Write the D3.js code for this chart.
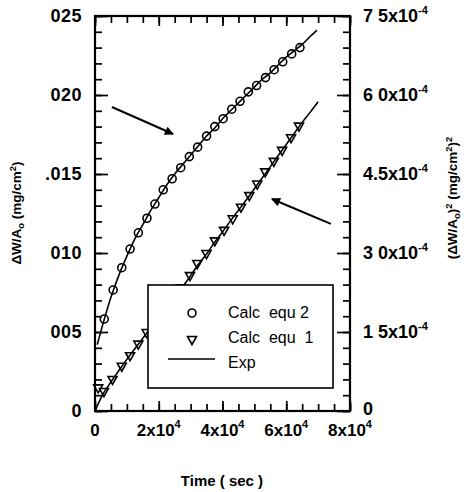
<!DOCTYPE html>
<html>
<head>
<meta charset="utf-8">
<script src="https://cdn.jsdelivr.net/npm/d3@7"></script>
<style>
  body { margin: 0; background: #fff; }
  text { font-family: "Liberation Sans", Arial, Helvetica, sans-serif; fill: #000; }
</style>
</head>
<body>
<script>
// ---- data ----
var calc2Time = [2900, 5700, 8400, 11000, 13600, 16300, 18800, 21400, 24200, 26900, 29600, 32200,
                 35000, 37600, 40200, 42900, 45500, 48100, 50700, 53500, 56200, 58900, 61700, 64300];
var calc2Val = [0.00582, 0.00766, 0.00907, 0.01025, 0.01128, 0.0122, 0.0131, 0.0140, 0.0147, 0.0154, 0.0161, 0.0167,
                0.0174, 0.0180, 0.0185, 0.0191, 0.0196, 0.0202, 0.0206, 0.0211, 0.0216, 0.0221, 0.0226, 0.0230];

var calc1Time = [1000, 2800, 5500, 8400, 11000, 13600, 16200, 18800, 21400, 24200, 26900, 29800, 32100,
                 35000, 37600, 40500, 43200, 45800, 48400, 50900, 53400, 56100, 58700, 61500, 64000];
var calc1Val = [0.43e-4, 0.36e-4, 0.59e-4, 0.84e-4, 1.04e-4, 1.26e-4, 1.48e-4, 1.69e-4, 1.90e-4, 2.11e-4, 2.33e-4, 2.56e-4, 2.79e-4,
                2.98e-4, 3.22e-4, 3.42e-4, 3.64e-4, 3.86e-4, 4.08e-4, 4.30e-4, 4.53e-4, 4.73e-4, 4.94e-4, 5.18e-4, 5.40e-4];

// experimental curves (solid lines)
var exp2Time = [700, 2900, 5000, 7500, 10000, 12500, 15000, 17500, 20000, 22500, 25000, 27500, 30000, 32500, 35000,
                37500, 40000, 42500, 45000, 47500, 50000, 52500, 55000, 57500, 60000, 62500, 65000, 67500, 69600];
var exp2Val = [0.0042, 0.0058, 0.0072, 0.0086, 0.0098, 0.0109, 0.0118, 0.0127, 0.0135, 0.0143, 0.0150, 0.0156, 0.0162, 0.0168, 0.0174,
               0.0179, 0.0185, 0.0190, 0.0195, 0.0200, 0.0205, 0.0210, 0.0214, 0.0219, 0.0224, 0.0228, 0.0232, 0.0237, 0.0241];

var exp1Time = [0, 2500, 5000, 7500, 10000, 12500, 15000, 17500, 20000, 22500, 25000, 27500, 30000, 32500, 35000,
                37500, 40000, 42500, 45000, 47500, 50000, 52500, 55000, 57500, 60000, 62500, 65000, 67500, 70000];
var exp1Val = [0, 0.32e-4, 0.55e-4, 0.77e-4, 0.98e-4, 1.18e-4, 1.38e-4, 1.58e-4, 1.78e-4, 1.98e-4, 2.17e-4, 2.36e-4, 2.57e-4, 2.79e-4, 2.98e-4,
               3.20e-4, 3.40e-4, 3.61e-4, 3.81e-4, 4.01e-4, 4.22e-4, 4.43e-4, 4.64e-4, 4.85e-4, 5.06e-4, 5.27e-4, 5.48e-4, 5.67e-4, 5.87e-4];

// ticks and labels (as printed in the scan)
var xTicks = [0, 20000, 40000, 60000, 80000];
var xTickLabels = [["0", ""], ["2x10", "4"], ["4x10", "4"], ["6x10", "4"], ["8x10", "4"]];
var yLeftTicks = [0, 0.005, 0.010, 0.015, 0.020, 0.025];
var yLeftLabels = ["0", "005", "010", ".015", "020", "025"];
var yRightTicks = [0, 1.5e-4, 3.0e-4, 4.5e-4, 6.0e-4, 7.5e-4];
var yRightLabels = [["0", ""], ["1 5x10", "-4"], ["3 0x10", "-4"], ["4.5x10", "-4"], ["6 0x10", "-4"], ["7 5x10", "-4"]];

var legendNames = ["Calc  equ 2", "Calc  equ  1", "Exp"];

// annotation arrows, [t0, v0, t1, v1] in left-axis units
var arrows = [[5300, 0.01924, 24500, 0.01753], [74000, 0.01184, 55500, 0.01342]];

// ---- layout ----
var svg = d3.select("body").append("svg").attr("width", 468).attr("height", 492);

var x = d3.scaleLinear().domain([0, 80000]).range([95, 350]);
var yL = d3.scaleLinear().domain([0, 0.025]).range([411, 16]);
var yR = d3.scaleLinear().domain([0, 7.5e-4]).range([411, 16]);

var xMinor = d3.range(0, 80001, 5000);
var yLMinor = d3.range(0, 0.02501, 0.001);
var yRMinor = d3.range(0, 7.51e-4, 0.3e-4);

function ticks(g) {
  g.select(".domain").remove();
  g.selectAll(".tick line").attr("stroke", "#000").attr("stroke-width", 1.7);
}

svg.append("g").attr("transform", "translate(0,411)")
  .call(d3.axisBottom(x).tickValues(xMinor).tickSize(-7).tickFormat("")).call(ticks);
svg.append("g").attr("transform", "translate(0,411)")
  .call(d3.axisBottom(x).tickValues(xTicks).tickSize(-10).tickFormat("")).call(ticks);
svg.append("g").attr("transform", "translate(0,16)")
  .call(d3.axisTop(x).tickValues(xMinor).tickSize(-7).tickFormat("")).call(ticks);
svg.append("g").attr("transform", "translate(0,16)")
  .call(d3.axisTop(x).tickValues(xTicks).tickSize(-10).tickFormat("")).call(ticks);
svg.append("g").attr("transform", "translate(95,0)")
  .call(d3.axisLeft(yL).tickValues(yLMinor).tickSize(-7).tickFormat("")).call(ticks);
svg.append("g").attr("transform", "translate(95,0)")
  .call(d3.axisLeft(yL).tickValues(yLeftTicks).tickSize(-13).tickFormat("")).call(ticks);
svg.append("g").attr("transform", "translate(350,0)")
  .call(d3.axisRight(yR).tickValues(yRMinor).tickSize(-7).tickFormat("")).call(ticks);
svg.append("g").attr("transform", "translate(350,0)")
  .call(d3.axisRight(yR).tickValues(yRightTicks).tickSize(-13).tickFormat("")).call(ticks);

// frame
svg.append("rect").attr("x", 95).attr("y", 16).attr("width", 255).attr("height", 395)
  .attr("fill", "none").attr("stroke", "#000").attr("stroke-width", 2.2);

// tick labels
xTicks.forEach(function(t, i) {
  var tx = svg.append("text").attr("x", x(t)).attr("y", 436)
    .attr("text-anchor", "middle").attr("font-size", 17).attr("font-weight", "bold");
  tx.append("tspan").text(xTickLabels[i][0]);
  if (xTickLabels[i][1]) tx.append("tspan").attr("dy", -8).attr("font-size", 11).text(xTickLabels[i][1]);
});
yLeftTicks.forEach(function(v, i) {
  svg.append("text").attr("x", 82).attr("y", yL(v)).attr("dy", "0.36em")
    .attr("text-anchor", "end").attr("font-size", 18).attr("font-weight", "bold")
    .attr("letter-spacing", 0.5)
    .text(yLeftLabels[i]);
});
yRightTicks.forEach(function(v, i) {
  var tx = svg.append("text").attr("x", 363).attr("y", yR(v)).attr("dy", i === 0 ? "0.2em" : "0.36em")
    .attr("font-size", 18).attr("font-weight", "bold");
  tx.append("tspan").text(yRightLabels[i][0]);
  if (yRightLabels[i][1]) tx.append("tspan").attr("dy", -8).attr("font-size", 11).text(yRightLabels[i][1]);
});

// axis titles
function rich(sel, parts) {
  // parts: [text, shift]  shift in px (negative = up)
  var cur = 0;
  parts.forEach(function(p) {
    var ts = sel.append("tspan").text(p[0]);
    var d = p[1] - cur;
    if (d) ts.attr("dy", d);
    if (p[1]) ts.attr("font-size", "0.7em");
    cur = p[1];
  });
}
svg.append("text").attr("x", 222).attr("y", 486).attr("text-anchor", "middle")
  .attr("font-size", 15).attr("font-weight", "bold").text("Time ( sec )");

var lt = svg.append("text").attr("transform", "translate(21,213) rotate(-90)")
  .attr("text-anchor", "middle").attr("font-size", 13.5).attr("font-weight", "bold");
rich(lt, [["\u0394W/A", 0], ["o", 3], [" (mg/cm", 0], ["2", -5], [")", 0]]);

var rt = svg.append("text").attr("transform", "translate(457,198) rotate(-90)")
  .attr("text-anchor", "middle").attr("font-size", 13.5).attr("font-weight", "bold");
rich(rt, [["(\u0394W/A", 0], ["o", 3], [")", 0], ["2", -5], [" (mg/cm", 0], ["2", -5], [")", 0], ["2", -5]]);

// curves
var lineL = d3.line().x(function(d) { return x(d[0]); }).y(function(d) { return yL(d[1]); }).curve(d3.curveMonotoneX);
var lineR = d3.line().x(function(d) { return x(d[0]); }).y(function(d) { return yR(d[1]); }).curve(d3.curveMonotoneX);

svg.append("path").datum(d3.zip(exp2Time, exp2Val)).attr("d", lineL)
  .attr("fill", "none").attr("stroke", "#000").attr("stroke-width", 1.6);
svg.append("path").datum(d3.zip(exp1Time, exp1Val)).attr("d", lineR)
  .attr("fill", "none").attr("stroke", "#000").attr("stroke-width", 1.6);

var triPath = "M-4.5,-3.5L4.5,-3.5L0,4.5Z";

svg.selectAll(".c2").data(d3.zip(calc2Time, calc2Val)).enter().append("circle")
  .attr("class", "c2")
  .attr("cx", function(d) { return x(d[0]); }).attr("cy", function(d) { return yL(d[1]); })
  .attr("r", 4).attr("fill", "none").attr("stroke", "#000").attr("stroke-width", 1.6);

svg.selectAll(".c1").data(d3.zip(calc1Time, calc1Val)).enter().append("path")
  .attr("class", "c1")
  .attr("transform", function(d) { return "translate(" + x(d[0]) + "," + yR(d[1]) + ")"; })
  .attr("d", triPath).attr("fill", "none").attr("stroke", "#000").attr("stroke-width", 1.6);

// arrows
svg.append("defs").append("marker").attr("id", "ah")
  .attr("viewBox", "0 0 10 10").attr("refX", 9).attr("refY", 5)
  .attr("markerUnits", "userSpaceOnUse").attr("markerWidth", 12).attr("markerHeight", 9)
  .attr("orient", "auto")
  .append("path").attr("d", "M0,0L10,5L0,10Z").attr("fill", "#000");

svg.selectAll(".arrow").data(arrows).enter().append("line")
  .attr("class", "arrow")
  .attr("x1", function(d) { return x(d[0]); }).attr("y1", function(d) { return yL(d[1]); })
  .attr("x2", function(d) { return x(d[2]); }).attr("y2", function(d) { return yL(d[3]); })
  .attr("stroke", "#000").attr("stroke-width", 2).attr("marker-end", "url(#ah)");

// legend
var lg = svg.append("g");
lg.append("rect").attr("x", 148).attr("y", 285).attr("width", 185).attr("height", 103)
  .attr("fill", "#fff").attr("stroke", "#000").attr("stroke-width", 1.6);
lg.append("circle").attr("cx", 192).attr("cy", 313).attr("r", 4)
  .attr("fill", "none").attr("stroke", "#000").attr("stroke-width", 1.6);
lg.append("path").attr("transform", "translate(192,340)").attr("d", triPath)
  .attr("fill", "none").attr("stroke", "#000").attr("stroke-width", 1.6);
lg.append("line").attr("x1", 168).attr("x2", 215).attr("y1", 359).attr("y2", 359)
  .attr("stroke", "#000").attr("stroke-width", 1.6);
legendNames.forEach(function(n, i) {
  lg.append("text").attr("x", 228).attr("y", 318 + i * 25).attr("font-size", 16)
    .attr("xml:space", "preserve").style("white-space", "pre").text(n);
});
</script>
</body>
</html>
